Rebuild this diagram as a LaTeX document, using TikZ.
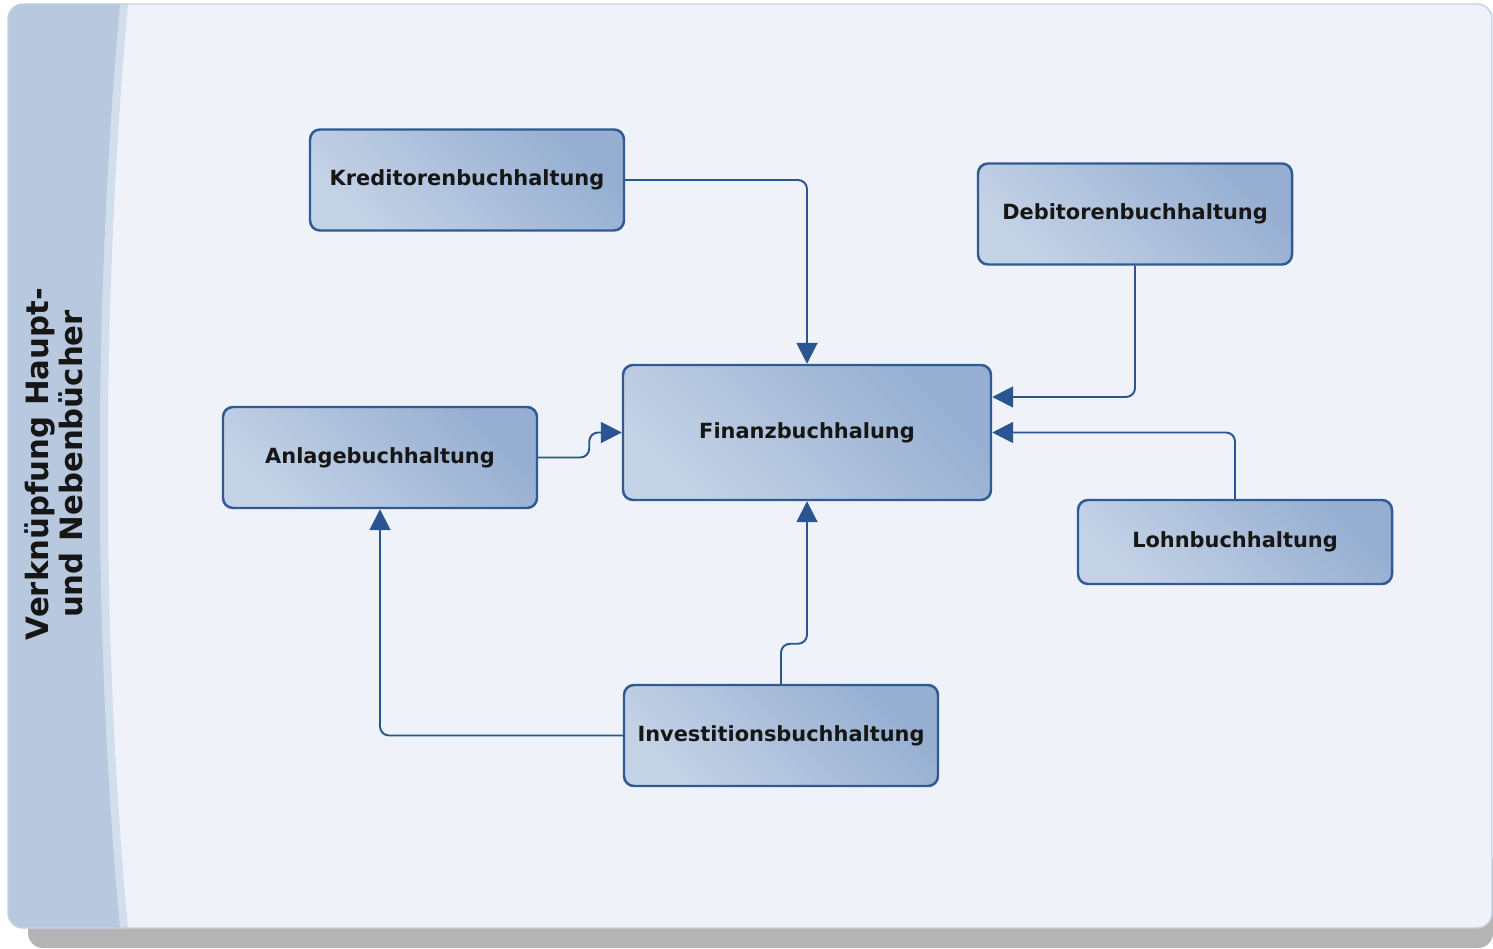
\documentclass[tikz,border=0pt]{standalone}
\usepackage{fontspec}
\setmainfont{DejaVu Sans}
\usepackage{xcolor}
\usetikzlibrary{arrows.meta,positioning,calc}

\definecolor{mainbg}{HTML}{EFF3F9}
\definecolor{bandblue}{HTML}{B8C8DE}
\definecolor{stripblue}{HTML}{D2DEEB}
\definecolor{framebord}{HTML}{C2D0E3}
\definecolor{shadowgray}{HTML}{B4B4B4}
\definecolor{boxline}{HTML}{2F5A93}
\definecolor{boxlight}{HTML}{C4D2E6}
\definecolor{boxdark}{HTML}{95AED1}
\definecolor{linkblue}{HTML}{2A5590}
\definecolor{textdark}{HTML}{161616}

\begin{document}
\begin{tikzpicture}[
  box/.style={draw=boxline,line width=1.4pt,rounded corners=0.2cm,
    minimum width=6.28cm,minimum height=2.02cm,
    left color=boxlight,right color=boxdark,shading angle=135,
    text=textdark,font=\bfseries\fontsize{11.9}{14}\selectfont},
  link/.style={draw=linkblue,line width=1.1pt,rounded corners=0.18cm,
    -{Triangle[length=0.42cm,width=0.42cm]}}]
\useasboundingbox (0,0) rectangle (29.86,18.96);

% Frame
\fill[shadowgray,rounded corners=0.3cm] (0.56,0) rectangle (29.86,2);
\begin{scope}
\clip[rounded corners=0.3cm] (0.16,0.4) rectangle (29.84,18.88);
\fill[mainbg] (0,0) rectangle (30,19);
\fill[stripblue] (0,0.4) -- (0,18.88) -- (2.56,18.88) .. controls (2.02,12.96) and (2.02,6.16) .. (2.56,0.4) -- cycle;
\fill[bandblue] (0,0.4) -- (0,18.88) -- (2.4,18.88) .. controls (1.86,12.96) and (1.86,6.16) .. (2.4,0.4) -- cycle;
\end{scope}
\draw[framebord,line width=0.8pt,rounded corners=0.3cm] (0.16,0.4) rectangle (29.84,18.88);

\node[rotate=90,align=center,text=textdark,font=\bfseries\fontsize{17.5}{19}\selectfont] (title) at (1.08,9.68) {Verknüpfung Haupt-\\und Nebenbücher};

% Ledgers
\node[box] (kred) at (9.34,15.36) {Kreditorenbuchhaltung};
\node[box] (deb) at (22.7,14.68) {Debitorenbuchhaltung};
\node[box,minimum width=7.36cm,minimum height=2.7cm] (fin) at (16.14,10.31) {Finanzbuchhalung};
\node[box] (anl) at (7.6,9.81) {Anlagebuchhaltung};
\node[box,minimum height=1.68cm] (lohn) at (24.7,8.12) {Lohnbuchhaltung};
\node[box] (inv) at (15.62,4.25) {Investitionsbuchhaltung};

% Links
\draw[link] (kred.east) -| (fin.north);
\draw[link] (deb.south) |- ($(fin.east)+(0,0.71)$);
\draw[link] (lohn.north) |- (fin.east);
\draw[link] (anl.east) -- ++(1.02,0) |- (fin.west);
\draw[link] (inv.north) -- ++(0,0.8) -| (fin.south);
\draw[link] (inv.west) -| (anl.south);
\end{tikzpicture}
\end{document}
